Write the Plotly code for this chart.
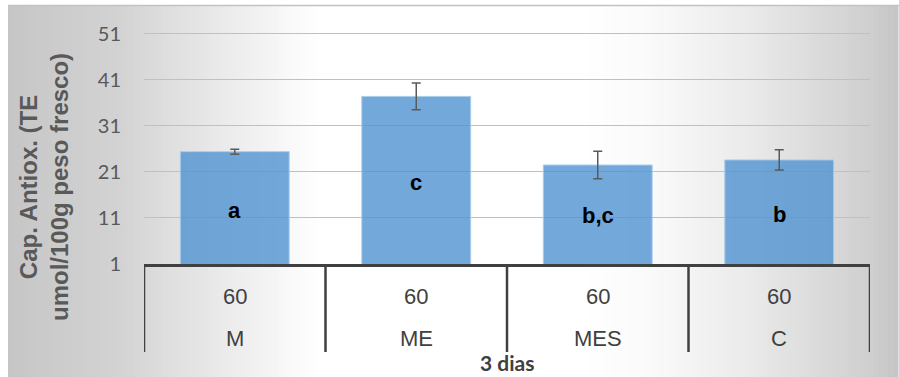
import numpy as np
import plotly.graph_objects as go

# Data
treatments = ["M", "ME", "MES", "C"]
doses = ["60", "60", "60", "60"]
capacity = [25.4, 37.4, 22.5, 23.6]
capacity_err = [0.55, 2.9, 3.0, 2.2]
letters = ["a", "c", "b,c", "b"]
letter_y = [12.7, 18.8, 11.6, 11.8]
y_ticks = [1, 11, 21, 31, 41, 51]
group_label = "3 dias"
y_title = "Cap. Antiox. (TE<br>umol/100g peso fresco)"

W, H = 899, 377
L, R, T, B = 144, 29, 20, 113
PW, PH = W - L - R, H - T - B


def px_to_paper_x(px):
    return (px - L) / PW


def px_to_paper_y(py):
    return (H - B - py) / PH


fig = go.Figure()

fig.add_trace(go.Bar(
    x=treatments,
    y=capacity,
    marker=dict(color="rgba(79,146,209,0.8)",
                line=dict(color="rgba(170,205,236,1)", width=1)),
    error_y=dict(type="data", array=capacity_err, visible=True,
                 color="#5a5a5a", thickness=1.5, width=4.5),
    showlegend=False,
    hoverinfo="skip",
))

shapes = []

# Soft grey-white-grey background band
stops_x = [8, 120, 180, 320, 580, 650, 750, 870, 899]
stops_c = [198, 211, 225, 255, 255, 250, 234, 207, 197]
edges = np.arange(8, W + 1, 5)
for x0 in edges[:-1]:
    x1 = x0 + 5
    c = int(round(np.interp(x0 + 2.5, stops_x, stops_c)))
    shapes.append(dict(
        type="rect", xref="paper", yref="paper", layer="below",
        x0=px_to_paper_x(x0), x1=px_to_paper_x(x1 + 0.5),
        y0=px_to_paper_y(H + 2), y1=px_to_paper_y(5),
        fillcolor=f"rgb({c},{c},{c})", line=dict(width=0),
    ))
# thin frame line on top edge
shapes.append(dict(
    type="line", xref="paper", yref="paper", layer="below",
    x0=px_to_paper_x(8), x1=px_to_paper_x(W + 2),
    y0=px_to_paper_y(5.5), y1=px_to_paper_y(5.5),
    line=dict(color="#c2c2c2", width=1.5),
))

# Category table dividers below the axis
for i in range(len(treatments) + 1):
    xi = i - 0.5
    shapes.append(dict(
        type="line", xref="x", yref="paper", layer="above",
        x0=xi, x1=xi, y0=0, y1=px_to_paper_y(352),
        line=dict(color="#404040", width=2.5),
    ))

annotations = []
for i, (t, d) in enumerate(zip(treatments, doses)):
    annotations.append(dict(
        x=t, y=px_to_paper_y(296), xref="x", yref="paper",
        text=d, showarrow=False, yanchor="middle",
        font=dict(family="Liberation Sans, Arial", size=22, color="#404040"),
    ))
    annotations.append(dict(
        x=t, y=px_to_paper_y(338), xref="x", yref="paper",
        text=t, showarrow=False, yanchor="middle",
        font=dict(family="Liberation Sans, Arial", size=22, color="#404040"),
    ))

for t, lab, ly in zip(treatments, letters, letter_y):
    annotations.append(dict(
        x=t, y=ly, xref="x", yref="y", text=f"<b>{lab}</b>", showarrow=False,
        yanchor="middle",
        font=dict(family="Liberation Sans, Arial", size=22, color="#000000"),
    ))

annotations.append(dict(
    x=0.5, y=px_to_paper_y(362), xref="paper", yref="paper",
    text=f"<b>{group_label}</b>", showarrow=False, yanchor="middle",
    font=dict(family="Lato", size=21, color="#404040"),
))

annotations.append(dict(
    x=px_to_paper_x(44), y=px_to_paper_y(187), xref="paper", yref="paper",
    text=f"<b>{y_title}</b>", showarrow=False, textangle=-90,
    xanchor="center", yanchor="middle", align="center",
    font=dict(family="Liberation Sans, Arial", size=24, color="#595959"),
))

fig.update_layout(
    width=W, height=H,
    margin=dict(l=L, r=R, t=T, b=B, pad=0),
    paper_bgcolor="white",
    plot_bgcolor="rgba(0,0,0,0)",
    bargap=0.4,
    shapes=shapes,
    annotations=annotations,
    xaxis=dict(
        type="category", range=[-0.5, 3.5],
        showticklabels=False, ticks="", showgrid=False,
        showline=True, linecolor="#404040", linewidth=2.5,
        zeroline=False,
    ),
    yaxis=dict(
        range=[1, 54], tickvals=y_ticks, ticktext=[str(v) for v in y_ticks],
        showgrid=True, gridcolor="#c0c0c0", gridwidth=1.3,
        zeroline=False, showline=False, ticks="",
        ticklabelstandoff=22,
        tickfont=dict(family="Lato", size=20, color="#595959"),
    ),
)

fig.write_html("out.html")
